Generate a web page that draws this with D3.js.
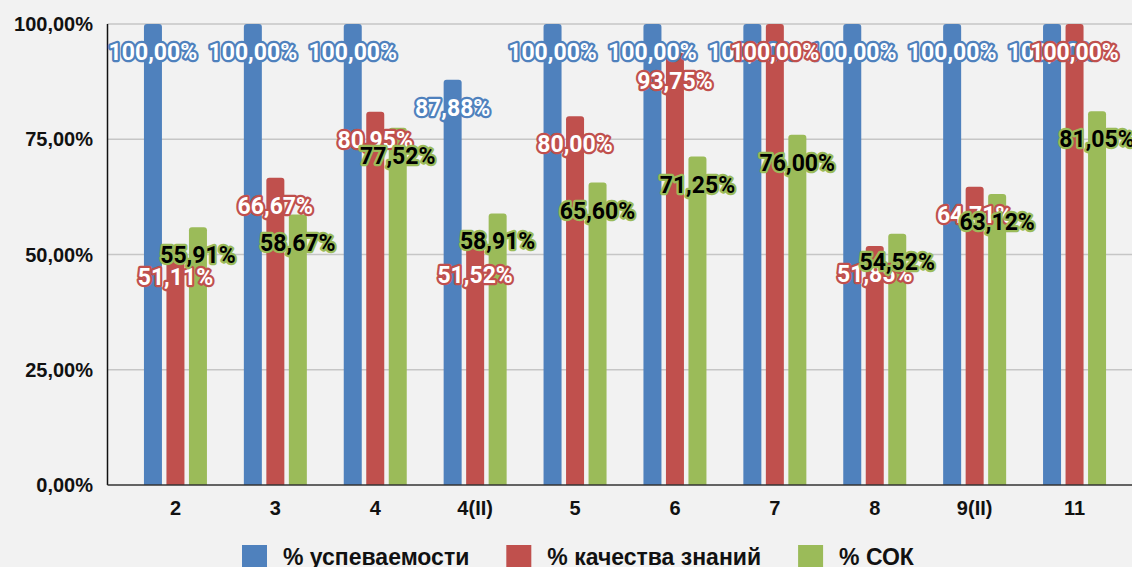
<!DOCTYPE html>
<html>
<head>
<meta charset="utf-8">
<script src="https://cdn.jsdelivr.net/npm/d3@7"></script>
<style>
  html, body { margin: 0; padding: 0; background: #f2f2f2; }
  #chart { width: 1132px; height: 567px; overflow: hidden; }
  .tick-label { font-family: "Liberation Sans", Arial, sans-serif; font-weight: bold; fill: #111; }
  .bar-label { font-family: Roboto, "Liberation Sans", sans-serif; font-weight: bold; font-size: 23px; paint-order: stroke; stroke-linejoin: round; }
</style>
</head>
<body>
<div id="chart"></div>
<script>
var categories = ["2", "3", "4", "4(II)", "5", "6", "7", "8", "9(II)", "11"];
var seriesNames = ["% успеваемости", "% качества знаний", "% СОК"];
var uspevaemost = [100, 100, 100, 87.88, 100, 100, 100, 100, 100, 100];
var kachestvo = [51.11, 66.67, 80.95, 51.52, 80.00, 93.75, 100, 51.85, 64.71, 100];
var sok = [55.91, 58.67, 77.52, 58.91, 65.60, 71.25, 76.00, 54.52, 63.12, 81.05];
var yTicks = [0, 25, 50, 75, 100];

var colors = ["#4f81bd", "#c0504d", "#9bbb59"];
var labelFill = ["#fff", "#fff", "#000"];

var width = 1132, height = 567;
var plot = { left: 107.5, top: 24, bottom: 485, right: 1140 };

var ru = d3.formatLocale({ decimal: ",", thousands: " ", grouping: [3], currency: ["", ""], percent: "%" });
var fmt = ru.format(".2f");

var allSeries = [uspevaemost, kachestvo, sok];

var x0 = d3.scaleBand()
    .domain(categories)
    .range([125.5, 1124.5]);

var x1 = d3.scaleBand()
    .domain([0, 1, 2])
    .range([-31.5, 31.5])
    .paddingInner(0.2);

var y = d3.scaleLinear()
    .domain([0, 100])
    .range([plot.bottom, plot.top]);

var svg = d3.select("#chart").append("svg")
    .attr("width", width)
    .attr("height", height);

svg.append("rect")
    .attr("width", width)
    .attr("height", height)
    .attr("fill", "#f2f2f2");

// gridlines
svg.append("g")
    .selectAll("line")
    .data(yTicks.filter(function (d) { return d > 0; }))
    .enter().append("line")
    .attr("x1", plot.left)
    .attr("x2", plot.right)
    .attr("y1", function (d) { return y(d); })
    .attr("y2", function (d) { return y(d); })
    .attr("stroke", "#c6c6c6")
    .attr("stroke-width", 1.5);

// y tick labels
svg.append("g")
    .selectAll("text")
    .data(yTicks)
    .enter().append("text")
    .attr("class", "tick-label")
    .attr("x", 93)
    .attr("y", function (d) { return y(d) + 7; })
    .attr("text-anchor", "end")
    .style("font-size", "20px")
    .text(function (d) { return fmt(d) + "%"; });

function barPath(x, w, top, bottom, r) {
    return "M" + x + "," + bottom +
        "V" + (top + r) +
        "Q" + x + "," + top + " " + (x + r) + "," + top +
        "H" + (x + w - r) +
        "Q" + (x + w) + "," + top + " " + (x + w) + "," + (top + r) +
        "V" + bottom + "Z";
}

// bars
var bars = [];
allSeries.forEach(function (vals, s) {
    vals.forEach(function (v, i) {
        bars.push({ s: s, cat: categories[i], v: v });
    });
});

svg.append("g")
    .selectAll("path")
    .data(bars)
    .enter().append("path")
    .attr("d", function (d) {
        var cx = x0(d.cat) + x0.bandwidth() / 2;
        return barPath(cx + x1(d.s), x1.bandwidth(), y(d.v), plot.bottom, 3);
    })
    .attr("fill", function (d) { return colors[d.s]; });

// axis lines
svg.append("line")
    .attr("x1", plot.left).attr("x2", plot.left)
    .attr("y1", plot.top).attr("y2", plot.bottom)
    .attr("stroke", "#111").attr("stroke-width", 1.5);
svg.append("line")
    .attr("x1", plot.left).attr("x2", plot.right)
    .attr("y1", plot.bottom).attr("y2", plot.bottom)
    .attr("stroke", "#333").attr("stroke-width", 1.5);

// x labels
svg.append("g")
    .selectAll("text")
    .data(categories)
    .enter().append("text")
    .attr("class", "tick-label")
    .attr("x", function (d) { return x0(d) + x0.bandwidth() / 2; })
    .attr("y", 515)
    .attr("text-anchor", "middle")
    .style("font-size", "20px")
    .text(function (d) { return d; });

// data labels
svg.append("g")
    .selectAll("text")
    .data(bars)
    .enter().append("text")
    .attr("class", "bar-label")
    .attr("x", function (d) { return x0(d.cat) + x0.bandwidth() / 2 + x1(d.s) + x1.bandwidth() / 2; })
    .attr("y", function (d) { return y(d.v) + 36; })
    .attr("text-anchor", "middle")
    .attr("fill", function (d) { return labelFill[d.s]; })
    .attr("stroke", function (d) { return colors[d.s]; })
    .attr("stroke-width", 4.5)
    .text(function (d) { return fmt(d.v) + "%"; });

// legend
var legend = svg.append("g");
var lx = 242;
seriesNames.forEach(function (name, s) {
    legend.append("rect")
        .attr("x", lx)
        .attr("y", 545)
        .attr("width", 25)
        .attr("height", 25)
        .attr("fill", colors[s]);
    var t = legend.append("text")
        .attr("class", "tick-label")
        .attr("x", lx + 41)
        .attr("y", 565)
        .style("font-size", "23px")
        .text(name);
    lx = lx + 41 + t.node().getComputedTextLength() + 37;
});
</script>
</body>
</html>
